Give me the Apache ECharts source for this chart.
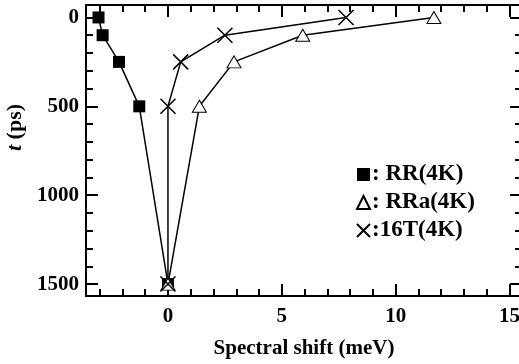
<!DOCTYPE html>
<html>
<head>
<meta charset="utf-8">
<script src="https://cdn.jsdelivr.net/npm/echarts@6/dist/echarts.min.js"></script>
<style>
  html, body { margin: 0; padding: 0; background: #fff; }
  #main { width: 519px; height: 364px; }
</style>
</head>
<body>
<div id="main"></div>
<script>
// data (shift in meV, t in ps)
var times = [0, 100, 250, 500, 1500];
var rrShift = [-3.05, -2.87, -2.15, -1.26, 0];
var rraShift = [11.68, 5.92, 2.9, 1.38, 0];
var t16Shift = [7.82, 2.5, 0.56, 0, 0];

var xMajor = [0, 5, 10, 15];
var xMinor = [-3, -2, -1, 1, 2, 3, 4, 6, 7, 8, 9, 11, 12, 13, 14];
var yMajor = [0, 500, 1000, 1500];
var yMinor = [100, 200, 300, 400, 600, 700, 800, 900, 1100, 1200, 1300, 1400];

var FONT = 'Liberation Serif';

function pairs(xs, ys) {
  return xs.map(function (x, i) { return [x, ys[i]]; });
}

var chart = echarts.init(document.getElementById('main'), null, { renderer: 'canvas' });

// one axis for the frame + long ticks, one for the short ticks
function xAxis(pos, major) {
  return {
    type: 'value',
    position: pos,
    min: -3.6,
    max: 15.55,
    splitLine: { show: false },
    axisLine: { show: major, onZero: false, lineStyle: { color: '#000', width: 2 } },
    axisTick: {
      inside: true,
      length: major ? 12 : 7,
      customValues: major ? xMajor : xMinor,
      lineStyle: { color: '#000', width: 2 }
    },
    axisLabel: {
      show: major && pos === 'bottom',
      customValues: xMajor,
      formatter: function (v) { return String(v); },
      margin: 10,
      color: '#000',
      fontFamily: FONT,
      fontWeight: 'bold',
      fontSize: 21
    },
    name: (major && pos === 'bottom') ? 'Spectral shift (meV)' : '',
    nameLocation: 'middle',
    nameGap: 42,
    nameTextStyle: { color: '#000', fontFamily: FONT, fontWeight: 'bold', fontSize: 21 }
  };
}

function yAxis(pos, major) {
  return {
    type: 'value',
    position: pos,
    inverse: true,
    min: -70,
    max: 1567,
    splitLine: { show: false },
    axisLine: { show: major, onZero: false, lineStyle: { color: '#000', width: 2 } },
    axisTick: {
      inside: true,
      length: major ? 12 : 7,
      customValues: major ? yMajor : yMinor,
      lineStyle: { color: '#000', width: 2 }
    },
    axisLabel: {
      show: major && pos === 'left',
      customValues: yMajor,
      formatter: function (v) { return String(v); },
      margin: 7,
      color: '#000',
      fontFamily: FONT,
      fontWeight: 'bold',
      fontSize: 21
    },
    name: (major && pos === 'left') ? '{i|t} (ps)' : '',
    nameLocation: 'middle',
    nameGap: 58,
    nameTextStyle: {
      color: '#000', fontFamily: FONT, fontWeight: 'bold', fontSize: 22,
      padding: [0, 0, 0, 46],
      rich: { i: { fontStyle: 'italic', fontWeight: 'bold', fontFamily: FONT, fontSize: 22, color: '#000' } }
    }
  };
}

var crossPath = 'path://M0,0L10,10M10,0L0,10';

var option = {
  animation: false,
  backgroundColor: '#fff',
  grid: { left: 86, top: 5, width: 436, height: 291, outerBoundsMode: 'none', containLabel: false },
  xAxis: [xAxis('bottom', true), xAxis('bottom', false), xAxis('top', true), xAxis('top', false)],
  yAxis: [yAxis('left', true), yAxis('left', false), yAxis('right', true), yAxis('right', false)],
  legend: {
    orient: 'vertical',
    left: 351,
    top: 158,
    itemGap: 5,
    itemWidth: 13,
    itemHeight: 13,
    formatter: function (name) {
      return (name === '16T(4K)' ? ':' : ': ') + name;
    },
    textStyle: { color: '#000', fontFamily: FONT, fontWeight: 'bold', fontSize: 23, padding: [0, 0, 0, -3] },
    data: [
      { name: 'RR(4K)', icon: 'rect' },
      { name: 'RRa(4K)', icon: 'triangle' },
      { name: '16T(4K)', icon: crossPath }
    ]
  },
  series: [
    {
      name: 'RR(4K)',
      type: 'line',
      data: pairs(rrShift, times),
      symbol: 'rect',
      symbolSize: 12,
      itemStyle: { color: '#000' },
      lineStyle: { color: '#000', width: 1.5 }
    },
    {
      name: 'RRa(4K)',
      type: 'line',
      data: pairs(rraShift, times),
      symbol: 'triangle',
      symbolSize: [14, 12],
      itemStyle: { color: '#fff', borderColor: '#000', borderWidth: 1 },
      lineStyle: { color: '#000', width: 1.5 }
    },
    {
      name: '16T(4K)',
      type: 'line',
      data: pairs(t16Shift, times),
      symbol: crossPath,
      symbolSize: 15,
      itemStyle: { color: 'rgba(0,0,0,0)', borderColor: '#000', borderWidth: 1.5 },
      lineStyle: { color: '#000', width: 1.5 }
    }
  ]
};

chart.setOption(option);
</script>
</body>
</html>
